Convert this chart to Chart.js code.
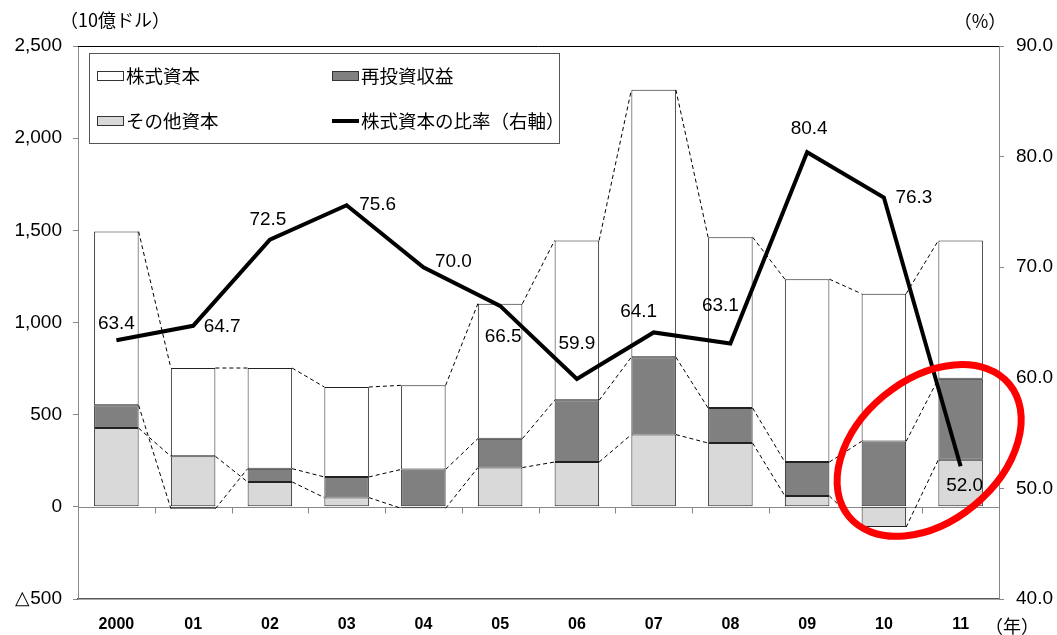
<!DOCTYPE html>
<html>
<head>
<meta charset="utf-8">
<script src="https://cdn.jsdelivr.net/npm/chart.js@4/dist/chart.umd.min.js"></script>
<style>
  html, body { margin: 0; padding: 0; background: #fff; }
  #wrap { width: 1057px; height: 635px; position: relative; }
</style>
</head>
<body>
<div id="wrap"><canvas id="fdiChart"></canvas></div>
<script>
// years on the x axis
const years = ["2000", "01", "02", "03", "04", "05", "06", "07", "08", "09", "10", "11"];

// components, 10億ドル
const otherCapital = [427, 274, 135, 50, -8, 213, 243, 392, 346, 59, -110, 256];   // その他資本
const reinvested   = [124, -10, 72, 112, 203, 157, 335, 420, 190, 184, 355, 439];  // 再投資収益
const equityCap    = [942, 479, 546, 488, 456, 732, 867, 1450, 927, 992, 801, 750]; // 株式資本

// share of equity capital, % (right axis)
const equityShare = [63.4, 64.7, 72.5, 75.6, 70.0, 66.5, 59.9, 64.1, 63.1, 80.4, 76.3, 52.0];

const leftTicks = { min: -500, max: 2500, step: 500 };
const rightTicks = { min: 40, max: 90, step: 10 };

// where each share label sits relative to its point (px)
const labelOffsets = [[0,-16],[29,1],[-2,-20],[31,0],[30,-5],[3,31],[0,-35],[-15,-21],[-10,-38],[2,-23],[30,0],[4,19]];

const NUM_FONT = '"Liberation Sans", Arial, sans-serif';
const JP_FONT = '"Noto Sans CJK JP", "Noto Sans", sans-serif';

const fmtLeft = v => v < 0 ? "△" + Math.abs(v) : v.toLocaleString("en-US");

// dashed series lines between neighbouring bars
const seriesLines = {
    id: "seriesLines",
    beforeDatasetDraw(chart, args) {
        if (args.meta.type !== "line") return;
        const ctx = chart.ctx;
        ctx.save();
        ctx.strokeStyle = "#000";
        ctx.lineWidth = 1;
        ctx.setLineDash([4, 3]);
        chart.data.datasets.forEach((ds, i) => {
            if (ds.type === "line") return;
            const els = chart.getDatasetMeta(i).data;
            for (let j = 0; j < els.length - 1; j++) {
                const a = els[j].getProps(["x", "y", "width"], true);
                const b = els[j + 1].getProps(["x", "y", "width"], true);
                ctx.beginPath();
                ctx.moveTo(a.x + a.width / 2, a.y);
                ctx.lineTo(b.x - b.width / 2, b.y);
                ctx.stroke();
            }
        });
        ctx.restore();
    }
};

// zero line, tick marks on it, top frame line
const frame = {
    id: "frame",
    beforeDatasetsDraw(chart) {
        const {ctx, chartArea: ca, scales} = chart;
        const y0 = Math.round(scales.y.getPixelForValue(0)) + 0.5;
        ctx.save();
        ctx.strokeStyle = "#888";
        ctx.lineWidth = 1;
        ctx.beginPath();
        ctx.moveTo(ca.left, y0);
        ctx.lineTo(ca.right, y0);
        const step = (ca.right - ca.left) / years.length;
        for (let i = 1; i < years.length; i++) {
            const x = Math.round(ca.left + i * step) + 0.5;
            ctx.moveTo(x, y0);
            ctx.lineTo(x, y0 + 6);
        }
        ctx.stroke();
        ctx.strokeStyle = "#000";
        ctx.beginPath();
        ctx.moveTo(ca.left, ca.top + 0.5);
        ctx.lineTo(ca.right, ca.top + 0.5);
        ctx.stroke();
        ctx.restore();
    },
    afterDraw(chart) {
        const {ctx, scales} = chart;
        ctx.save();
        ctx.fillStyle = "#000";
        ctx.font = "18px " + JP_FONT;
        ctx.textAlign = "center";
        ctx.textBaseline = "middle";
        ctx.fillText("（10億ドル）", 115, 20);
        ctx.fillText("（%）", 980, 21);
        ctx.fillText("（年）", 1012, 626);

        // red ellipse highlighting 2010-11
        const cx = scales.x.getPixelForValue(10.59);
        const cy = scales.y.getPixelForValue(306);
        ctx.strokeStyle = "#ff0000";
        ctx.lineWidth = 7;
        ctx.beginPath();
        ctx.ellipse(cx, cy, 104, 71, -0.69, 0, Math.PI * 2);
        ctx.stroke();
        ctx.restore();
    }
};

// value labels on the share line
const shareLabels = {
    id: "shareLabels",
    afterDatasetsDraw(chart) {
        const ctx = chart.ctx;
        const idx = chart.data.datasets.findIndex(d => d.type === "line");
        const pts = chart.getDatasetMeta(idx).data;
        ctx.save();
        ctx.fillStyle = "#000";
        ctx.font = "19px " + NUM_FONT;
        ctx.textAlign = "center";
        ctx.textBaseline = "middle";
        pts.forEach((p, i) => {
            const o = labelOffsets[i];
            ctx.fillText(equityShare[i].toFixed(1), p.x + o[0], p.y + o[1]);
        });
        ctx.restore();
    }
};

// legend box drawn in the plot area
const legendBox = {
    id: "legendBox",
    afterDatasetsDraw(chart) {
        const ctx = chart.ctx;
        ctx.save();
        ctx.fillStyle = "#fff";
        ctx.fillRect(89, 53, 470, 90);
        ctx.strokeStyle = "#555";
        ctx.lineWidth = 1;
        ctx.strokeRect(89.5, 53.5, 470, 90);

        const items = [
            { text: "株式資本", fill: "#ffffff", x: 97, y: 76 },
            { text: "再投資収益", fill: "#808080", x: 332, y: 76 },
            { text: "その他資本", fill: "#d9d9d9", x: 97, y: 121 },
            { text: "株式資本の比率（右軸）", line: true, x: 332, y: 121 }
        ];
        ctx.font = "18.5px " + JP_FONT;
        ctx.textBaseline = "middle";
        ctx.textAlign = "left";
        items.forEach(it => {
            if (it.line) {
                ctx.strokeStyle = "#000";
                ctx.lineWidth = 4;
                ctx.beginPath();
                ctx.moveTo(it.x, it.y);
                ctx.lineTo(it.x + 27, it.y);
                ctx.stroke();
            } else {
                ctx.fillStyle = it.fill;
                ctx.fillRect(it.x, it.y - 4, 26, 8);
                ctx.strokeStyle = "#333";
                ctx.lineWidth = 1;
                ctx.strokeRect(it.x + 0.5, it.y - 4.5, 26, 9);
            }
            ctx.fillStyle = "#000";
            ctx.fillText(it.text, it.x + 29, it.y);
        });
        ctx.restore();
    }
};

const barStyle = { stack: "s", borderColor: "#222", borderWidth: 1, borderSkipped: false,
    barPercentage: 0.58, categoryPercentage: 1, order: 1, yAxisID: "y" };

new Chart(document.getElementById("fdiChart"), {
    data: {
        labels: years,
        datasets: [
            { type: "line", label: "株式資本の比率（右軸）", data: equityShare, yAxisID: "y1",
              borderColor: "#000", borderWidth: 4, pointRadius: 0, tension: 0, order: 0 },
            { type: "bar", label: "その他資本", data: otherCapital, backgroundColor: "#d9d9d9", ...barStyle },
            { type: "bar", label: "再投資収益", data: reinvested, backgroundColor: "#808080", ...barStyle },
            { type: "bar", label: "株式資本", data: equityCap, backgroundColor: "#ffffff", ...barStyle }
        ]
    },
    options: {
        responsive: true,
        maintainAspectRatio: false,
        animation: false,
        layout: { padding: { top: 46, left: 0, right: 0, bottom: 0 } },
        plugins: { legend: { display: false }, tooltip: { enabled: false } },
        scales: {
            x: {
                stacked: true,
                grid: { display: false, drawTicks: false },
                border: { display: true, color: "#595959", width: 1.5 },
                ticks: { padding: 16, color: "#000", font: { family: NUM_FONT, size: 16, weight: "bold" } },
                afterFit: s => { s.height = 36; }
            },
            y: {
                stacked: true,
                position: "left",
                min: leftTicks.min, max: leftTicks.max,
                grid: { drawOnChartArea: false, drawTicks: true, tickLength: 5, color: "#888" },
                border: { color: "#888" },
                ticks: { stepSize: leftTicks.step, padding: 11, color: "#000",
                         font: { family: NUM_FONT, size: 19 }, callback: v => fmtLeft(v) },
                afterFit: s => { s.width = 78; }
            },
            y1: {
                position: "right",
                min: rightTicks.min, max: rightTicks.max,
                grid: { drawOnChartArea: false, drawTicks: true, tickLength: 5, color: "#888" },
                border: { color: "#888" },
                ticks: { stepSize: rightTicks.step, padding: 12, color: "#000",
                         font: { family: NUM_FONT, size: 19 }, callback: v => v.toFixed(1) },
                afterFit: s => { s.width = 58; }
            }
        }
    },
    plugins: [frame, seriesLines, shareLabels, legendBox]
});
</script>
</body>
</html>
